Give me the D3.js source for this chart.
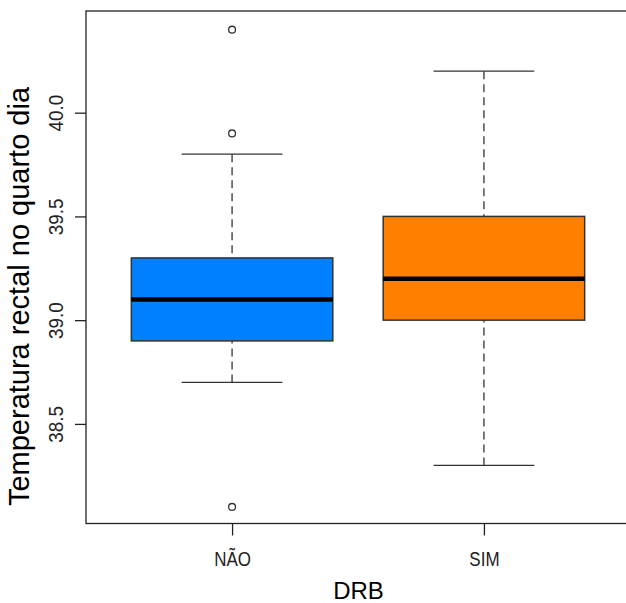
<!DOCTYPE html>
<html>
<head>
<meta charset="utf-8">
<script src="https://cdn.jsdelivr.net/npm/d3@7"></script>
<style>
  body { margin: 0; background: #fff; }
  svg { display: block; font-family: "Liberation Sans", Arial, sans-serif; }
</style>
</head>
<body>
<svg id="chart" width="626" height="603"></svg>
<script>
// boxplot stats
const groups = ["NÃO", "SIM"];
const colors = ["#0080ff", "#ff8000"];
const whiskerLow = [38.7, 38.3];
const q1 = [38.9, 39.0];
const medians = [39.1, 39.2];
const q3 = [39.3, 39.5];
const whiskerHigh = [39.8, 40.2];
const outliers = [[40.4, 39.9, 38.1], []];
const yTicks = [38.5, 39.0, 39.5, 40.0];

const svg = d3.select("#chart");

// R-style limits: 0.5..n+0.5 padded by 4%
const x = d3.scaleLinear().domain([0.42, 2.58]).range([86, 630]);
const y = d3.scaleLinear().domain([38.02, 40.49]).range([523.5, 11]);

const boxW = 0.8;
const stapleW = 0.4;

const stats = groups.map((g, i) => ({
  name: g,
  pos: i + 1,
  color: colors[i],
  lo: whiskerLow[i],
  q1: q1[i],
  med: medians[i],
  q3: q3[i],
  hi: whiskerHigh[i],
  out: outliers[i]
}));

const boxes = svg.selectAll("g.box")
  .data(stats)
  .join("g")
  .attr("class", "box");

// whiskers (dashed)
boxes.append("line")
  .attr("x1", d => x(d.pos)).attr("x2", d => x(d.pos))
  .attr("y1", d => y(d.lo)).attr("y2", d => y(d.q1))
  .attr("stroke", "#333").attr("stroke-width", 1.3)
  .attr("stroke-dasharray", "8,5");
boxes.append("line")
  .attr("x1", d => x(d.pos)).attr("x2", d => x(d.pos))
  .attr("y1", d => y(d.hi)).attr("y2", d => y(d.q3))
  .attr("stroke", "#333").attr("stroke-width", 1.3)
  .attr("stroke-dasharray", "8,5");

// staples
boxes.selectAll("line.staple")
  .data(d => [d.lo, d.hi].map(v => ({ v, pos: d.pos })))
  .join("line")
  .attr("class", "staple")
  .attr("x1", d => x(d.pos - stapleW / 2))
  .attr("x2", d => x(d.pos + stapleW / 2))
  .attr("y1", d => y(d.v)).attr("y2", d => y(d.v))
  .attr("stroke", "#333").attr("stroke-width", 1.4);

// box
boxes.append("rect")
  .attr("x", d => x(d.pos - boxW / 2))
  .attr("width", d => x(d.pos + boxW / 2) - x(d.pos - boxW / 2))
  .attr("y", d => y(d.q3))
  .attr("height", d => y(d.q1) - y(d.q3))
  .attr("fill", d => d.color)
  .attr("stroke", "#333").attr("stroke-width", 1.5);

// median
boxes.append("line")
  .attr("x1", d => x(d.pos - boxW / 2))
  .attr("x2", d => x(d.pos + boxW / 2))
  .attr("y1", d => y(d.med)).attr("y2", d => y(d.med))
  .attr("stroke", "#000").attr("stroke-width", 4.5);

// outliers
boxes.selectAll("circle")
  .data(d => d.out.map(v => ({ v, pos: d.pos })))
  .join("circle")
  .attr("cx", d => x(d.pos))
  .attr("cy", d => y(d.v))
  .attr("r", 3.4)
  .attr("fill", "none")
  .attr("stroke", "#333").attr("stroke-width", 1.3);

// frame
svg.append("rect")
  .attr("x", x(0.42)).attr("y", y(40.49))
  .attr("width", x(2.58) - x(0.42))
  .attr("height", y(38.02) - y(40.49))
  .attr("fill", "none").attr("stroke", "#222").attr("stroke-width", 1.3);

// x axis
const xAxis = svg.append("g")
  .attr("transform", `translate(0,${y(38.02)})`)
  .call(d3.axisBottom(x)
    .tickValues(stats.map(d => d.pos))
    .tickFormat((d, i) => groups[i])
    .tickSize(12));
xAxis.select(".domain").remove();
xAxis.selectAll(".tick line").attr("stroke", "#222").attr("stroke-width", 1.3);
xAxis.selectAll(".tick text")
  .attr("y", 0).attr("dy", 0)
  .attr("transform", "translate(0,42) scale(0.87,1)")
  .attr("font-size", 19.5).attr("fill", "#222")
  .style("font-family", "'Liberation Sans', Arial, sans-serif");

// y axis
const yAxis = svg.append("g")
  .attr("transform", `translate(${x(0.42)},0)`)
  .call(d3.axisLeft(y)
    .tickValues(yTicks)
    .tickFormat(d3.format(".1f"))
    .tickSize(11));
yAxis.select(".domain").remove();
yAxis.selectAll(".tick line").attr("stroke", "#222").attr("stroke-width", 1.3);
yAxis.selectAll(".tick text")
  .attr("x", 0).attr("dy", 0)
  .attr("text-anchor", "middle")
  .attr("transform", `translate(${63 - x(0.42)},0) rotate(-90) scale(0.9,1)`)
  .attr("font-size", 21).attr("fill", "#222")
  .style("font-family", "'Liberation Sans', Arial, sans-serif");

// axis titles
svg.append("text")
  .attr("x", 358.5)
  .attr("y", 599)
  .attr("text-anchor", "middle")
  .attr("font-size", 24)
  .attr("fill", "#000")
  .text("DRB");

svg.append("text")
  .attr("transform", "translate(29,296.5) rotate(-90)")
  .attr("text-anchor", "middle")
  .attr("font-size", 29)
  .attr("fill", "#000")
  .text("Temperatura rectal no quarto dia");
</script>
</body>
</html>
